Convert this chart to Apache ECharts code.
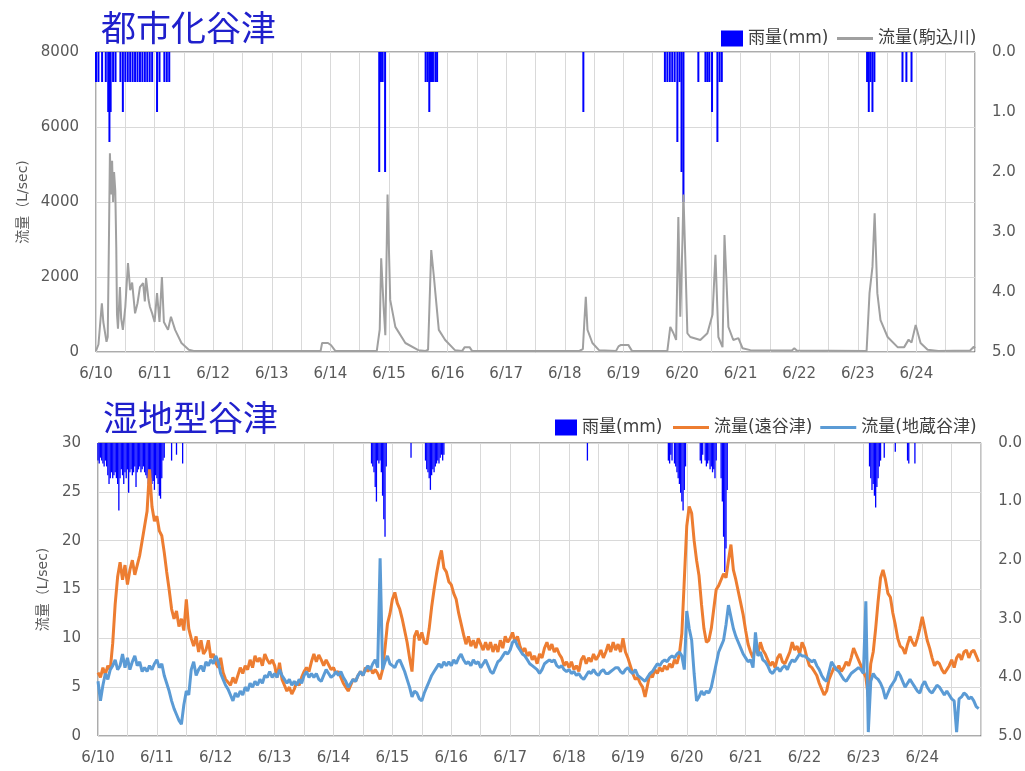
<!DOCTYPE html>
<html>
<head>
<meta charset="utf-8">
<script src="https://cdn.jsdelivr.net/npm/echarts@6.0.0/dist/echarts.min.js"></script>
<style>
  html, body { margin: 0; padding: 0; background: #fff; }
  #main { width: 1025px; height: 771px; }
</style>
</head>
<body>
<div id="main"></div>
<script>
// x axis is hours since 6/10 0:00
var dayLabels = ['6/10', '6/11', '6/12', '6/13', '6/14', '6/15', '6/16', '6/17',
                 '6/18', '6/19', '6/20', '6/21', '6/22', '6/23', '6/24'];

// 都市化谷津: rain (mm) and flow of 駒込川 (L/sec), [hour, value]
var urbanRain = [
  [0, 0.5], [1, 0.5], [2.5, 0.5], [4, 0.5], [5, 1.0], [5.5, 1.5], [6, 1.0], [7, 0.5], [8, 0.5],
  [10, 0.5], [11, 1.0], [12, 0.5], [13, 0.5], [14, 0.5], [15, 0.5], [16, 0.5], [17, 0.5],
  [18, 0.5], [19, 0.5], [20, 0.5], [21, 0.5], [22, 0.5], [23, 0.5], [25, 1.0], [26, 0.5],
  [28, 0.5], [29, 0.5], [30, 0.5],
  [116, 2.0], [116.7, 0.5], [117.4, 0.5], [118.4, 2.0],
  [135, 0.5], [135.8, 0.5], [136.5, 1.0], [137.2, 0.5], [138, 0.5], [139, 0.5], [139.7, 0.5],
  [199.6, 1.0],
  [233, 0.5], [234, 0.5], [235, 0.5], [236, 0.5], [237, 0.5], [238.1, 1.5], [239, 0.5],
  [239.8, 2.0], [240.6, 2.5],
  [246.7, 0.5], [249.6, 0.5], [250.4, 0.5], [251.2, 0.5], [252.3, 1.0],
  [254.5, 1.5], [255.4, 0.5], [256.3, 0.5],
  [315.8, 0.5], [316.5, 1.0], [317.2, 0.5], [318, 1.0], [318.8, 0.5],
  [330.3, 0.5], [331.9, 0.5], [334, 0.5]
];
var komagomeFlow = [
  [0, 30], [1, 200], [2.4, 1300], [3, 800], [4.3, 270], [4.8, 400], [5.3, 3000], [5.7, 5300],
  [6.2, 4200], [6.6, 5100], [7, 4000], [7.4, 4800], [7.9, 4300], [8.3, 2800], [8.6, 1000],
  [9, 620], [9.8, 1730], [10.3, 900], [11, 590], [12, 1200], [13.1, 2370], [14, 1650],
  [14.8, 1850], [16, 1030], [17, 1300], [18, 1730], [19.3, 1840], [20, 1350], [20.5, 1970],
  [21.5, 1400], [22.1, 1200], [23, 1030], [24, 800], [25, 1570], [26, 800], [27, 2000],
  [27.8, 800], [29.5, 590], [30.7, 940], [32.4, 590], [35, 240], [38, 60], [40, 30],
  [92, 30], [92.6, 240], [95, 240], [96.3, 180], [98, 30],
  [115, 30], [116.2, 600], [116.8, 2500], [117.8, 1200], [118.5, 450], [119.4, 4200],
  [120.5, 1390], [122.6, 670], [126.7, 240], [132, 50], [135, 30],
  [136, 60], [137.3, 2720], [138.4, 2000], [139, 1570], [140.4, 590], [143, 320], [147, 50],
  [150, 30], [151, 130], [153, 130], [154, 30],
  [198, 30], [199.4, 80], [200, 800], [200.6, 1470], [201.3, 590], [203.3, 240], [206, 50],
  [213, 30], [214, 150], [215, 190], [218, 190], [219.5, 30],
  [234, 30], [235.2, 670], [236.5, 500], [237.6, 320], [238.5, 3600], [239.3, 940],
  [240.2, 3000], [240.6, 4200], [241.4, 2400], [242.2, 500], [243.4, 400], [247.5, 320],
  [250.4, 500], [252.5, 1000], [253.7, 2590], [254.9, 400], [256.6, 130], [257.4, 3120],
  [258.2, 1920], [259, 670], [261, 320], [263.1, 370], [264.8, 100], [268, 50],
  [285, 40], [286, 100], [287, 40],
  [315.6, 30], [316.8, 1570], [318, 2270], [318.9, 3700], [320, 1570], [321.3, 850],
  [324.2, 400], [328.3, 130], [331, 130], [332.8, 330], [334, 250], [335.7, 720],
  [337.7, 240], [340.6, 60], [345, 30], [358, 40], [359.5, 140], [360, 100]
];

// 湿地型谷津: rain (mm) [hour, value] and hourly flows (L/sec)
var wetRain = [
  [0, 0.3], [0.5, 0.35], [1, 0.25], [1.5, 0.3], [2, 0.35], [2.5, 0.4], [3, 0.3], [3.5, 0.4],
  [4, 0.55], [4.5, 0.7], [5, 0.6], [5.5, 0.5], [6, 0.6], [6.5, 0.55], [7, 0.5], [7.5, 0.6],
  [8, 0.7], [8.5, 1.15], [9, 0.6], [9.5, 0.45], [10, 0.55], [10.5, 0.7], [11, 0.5], [11.5, 0.6],
  [12, 0.45], [12.5, 0.85], [13, 0.5], [13.5, 0.45], [14, 0.55], [14.5, 0.5], [15, 0.4],
  [15.5, 0.75], [16, 0.5], [16.5, 0.45], [17, 0.4], [17.5, 0.5], [18, 0.45], [18.5, 0.4],
  [19, 0.5], [19.5, 0.55], [20, 0.6], [20.5, 0.7], [21, 0.75], [21.5, 0.6], [22, 0.7],
  [22.5, 0.65], [23, 0.8], [23.5, 0.55], [24, 0.6], [24.5, 0.7], [25, 0.9], [25.5, 0.95],
  [26, 0.6], [26.5, 0.3], [27, 0.25], [30, 0.3], [32, 0.2], [34.5, 0.35],
  [111.5, 0.35], [112, 0.4], [112.5, 0.5], [113, 0.75], [113.5, 1.0], [114, 0.3], [114.5, 0.35],
  [115, 0.3], [115.5, 0.5], [116, 0.9], [116.5, 1.3], [117, 1.6], [117.5, 0.4], [127.6, 0.25],
  [133.5, 0.3], [134, 0.45], [134.5, 0.5], [135, 0.6], [135.5, 0.8], [136, 0.55], [136.5, 0.45],
  [137, 0.5], [137.5, 0.4], [138, 0.35], [138.5, 0.3], [139, 0.35], [139.5, 0.25], [140, 0.2],
  [140.5, 0.3], [141, 0.2],
  [199.5, 0.3],
  [232.5, 0.3], [233, 0.35], [233.5, 0.2], [234, 0.3], [235, 0.35], [235.5, 0.4], [236, 0.5],
  [236.5, 0.6], [237, 0.7], [237.5, 0.85], [238, 1.0], [238.5, 1.15], [239, 0.8], [239.5, 0.4],
  [245.5, 0.3], [246, 0.35], [246.5, 0.2], [247.5, 0.3], [248, 0.4], [248.5, 0.35], [249, 0.3],
  [249.5, 0.45], [250, 0.4], [250.5, 0.5], [251, 0.45], [251.5, 0.6], [252, 0.3],
  [254, 0.6], [254.5, 1.0], [255, 1.6], [255.5, 2.2], [256, 1.8], [256.5, 0.8],
  [314.5, 0.4], [315, 0.6], [315.5, 0.8], [316, 0.7], [316.5, 0.9], [317, 1.1], [317.5, 0.75],
  [318, 0.6], [318.5, 0.4], [319, 0.3], [320.5, 0.25],
  [325, 0.15], [330, 0.3], [330.5, 0.35], [333, 0.35]
];
var tooyatsuFlow = [
  6.5, 6.0, 7.0, 6.3, 7.2, 6.8, 9.5, 13.5, 16.3, 17.8, 16.0, 17.5, 15.5, 17.0, 18.0, 16.5, 17.5, 18.5, 20.0, 21.5, 23.0, 27.3, 23.5, 22.0,
  22.5, 21.0, 20.5, 18.8, 16.8, 15.0, 13.0, 12.0, 12.8, 11.2, 12.0, 10.8, 14.0, 11.0, 10.0, 9.2, 10.2, 8.6, 9.8, 8.4, 8.8, 9.8, 8.0, 8.4,
  7.5, 7.0, 8.0, 6.5, 5.8, 5.5, 5.2, 6.0, 5.4, 6.2, 7.0, 6.4, 7.2, 6.8, 7.8, 7.0, 8.2, 7.6, 8.0, 7.2, 8.4, 7.8, 7.4, 7.8,
  7.2, 6.0, 7.5, 5.8, 5.2, 4.6, 5.0, 4.3, 4.8, 5.5, 5.2, 6.0, 6.6, 7.0, 6.6, 7.6, 8.4, 7.6, 8.3, 7.8, 7.2, 7.8, 7.3, 6.8,
  7.0, 6.4, 6.6, 6.0, 5.4, 5.0, 4.6, 5.2, 5.8, 5.6, 6.2, 6.6, 6.2, 7.0, 6.6, 7.0, 6.4, 6.8, 6.4, 5.8, 6.8, 9.0, 11.5, 12.5,
  14.0, 14.7, 13.6, 13.0, 12.0, 10.8, 9.6, 8.0, 6.6, 10.2, 10.8, 9.8, 10.6, 9.6, 9.4, 11.0, 13.2, 15.0, 16.6, 18.0, 19.0, 17.2, 16.8, 15.8,
  15.5, 14.6, 14.0, 12.6, 11.5, 10.4, 9.4, 10.2, 9.2, 9.8, 9.0, 10.0, 9.4, 8.8, 9.6, 8.8, 9.6, 8.6, 9.4, 8.6, 9.8, 9.0, 10.2, 9.6,
  10.0, 10.6, 9.6, 10.2, 9.2, 8.6, 9.0, 8.2, 8.6, 7.8, 8.2, 7.4, 8.4, 8.0, 9.0, 9.6, 8.8, 9.4, 8.6, 9.0, 8.4, 8.0, 7.2, 7.6,
  7.0, 7.6, 6.8, 7.2, 6.6, 7.8, 8.2, 7.4, 8.0, 7.6, 8.4, 7.8, 8.2, 8.8, 8.0, 8.6, 9.4, 8.6, 9.6, 8.8, 9.4, 8.6, 10.0, 8.6,
  8.0, 7.2, 6.4, 5.8, 6.0, 5.4, 5.0, 4.0, 5.2, 6.4, 6.0, 6.8, 6.4, 7.0, 6.6, 7.2, 6.8, 7.4, 7.0, 7.8, 7.4, 8.4, 10.5, 16.0,
  21.5, 23.5, 22.8, 20.0, 18.0, 16.4, 13.5, 11.0, 9.6, 9.8, 11.0, 13.0, 15.0, 15.4, 16.0, 16.6, 16.2, 18.0, 19.6, 17.0, 16.0, 14.8, 13.6, 12.4,
  10.8, 9.4, 8.6, 8.0, 9.2, 8.4, 9.6, 8.8, 8.4, 7.8, 7.2, 7.6, 7.0, 8.0, 8.4, 7.6, 7.4, 8.0, 8.6, 9.6, 8.8, 9.2, 8.4, 9.6,
  9.0, 8.0, 7.2, 7.0, 6.6, 6.2, 5.4, 4.8, 4.2, 4.6, 5.8, 6.4, 7.0, 6.8, 7.2, 6.6, 7.0, 7.6, 7.2, 8.0, 9.0, 8.4, 7.8, 7.2,
  6.6, 6.0, 4.0, 7.4, 8.6, 11.0, 13.8, 16.2, 17.0, 16.0, 14.6, 14.2, 12.6, 11.4, 10.0, 9.2, 9.0, 8.4, 9.4, 10.2, 9.6, 9.2, 10.0, 11.0,
  12.2, 11.0, 9.8, 9.0, 8.0, 7.2, 7.6, 7.4, 6.8, 6.4, 6.8, 7.2, 7.8, 7.0, 8.0, 8.4, 7.8, 8.6, 8.8, 8.0, 8.6, 8.8, 8.2, 7.6
];
var jizoFlow = [
  5.6, 3.6, 5.2, 6.4, 5.8, 6.8, 7.2, 7.8, 6.8, 7.2, 8.4, 7.0, 8.0, 6.8, 7.6, 8.2, 7.2, 7.6, 6.6, 7.0, 6.6, 7.2, 6.8, 7.4,
  7.8, 7.0, 7.4, 6.2, 5.4, 4.6, 3.6, 2.8, 2.2, 1.6, 1.2, 3.2, 4.6, 4.2, 6.8, 7.6, 6.2, 6.8, 7.2, 6.6, 7.6, 7.2, 7.8, 7.4,
  8.2, 7.6, 6.4, 5.8, 5.2, 4.8, 4.2, 3.6, 4.4, 4.0, 4.6, 4.2, 5.0, 4.6, 5.4, 5.0, 5.6, 5.2, 5.8, 5.4, 6.2, 6.0, 6.6, 6.0,
  6.4, 6.0, 6.8, 6.2, 5.8, 5.4, 5.8, 5.2, 5.6, 5.2, 5.8, 5.4, 6.2, 6.6, 6.0, 6.4, 6.0, 6.4, 5.8, 5.6, 6.2, 6.8, 6.4, 6.0,
  6.2, 6.6, 6.2, 6.6, 6.0, 5.6, 5.0, 5.4, 5.8, 5.6, 6.2, 6.6, 6.2, 6.8, 7.2, 6.8, 7.4, 7.8, 7.0, 18.2, 6.8, 7.6, 8.2, 7.4,
  7.2, 7.0, 7.6, 7.8, 7.2, 6.6, 5.8, 5.0, 4.0, 4.6, 4.4, 3.8, 3.6, 4.4, 5.0, 5.6, 6.2, 6.6, 7.0, 7.4, 7.0, 7.6, 7.2, 7.6,
  7.2, 7.8, 7.4, 8.0, 8.4, 7.8, 7.4, 7.6, 7.2, 7.8, 7.4, 7.6, 7.0, 7.4, 7.8, 7.2, 6.6, 6.4, 7.0, 7.6, 7.8, 8.2, 8.6, 8.4,
  8.8, 9.6, 9.8, 9.2, 8.8, 8.4, 8.2, 7.8, 7.4, 7.2, 7.0, 6.8, 6.4, 6.8, 7.4, 7.6, 7.8, 7.6, 7.8, 7.2, 7.0, 7.2, 6.8, 6.6,
  6.8, 6.4, 6.6, 6.2, 6.4, 6.0, 5.8, 6.2, 6.6, 6.4, 6.8, 6.4, 6.2, 6.6, 6.8, 6.4, 6.4, 6.6, 6.8, 7.0, 7.0, 6.6, 6.4, 6.8,
  7.0, 6.6, 6.4, 6.8, 6.2, 6.0, 5.8, 5.6, 6.0, 6.4, 6.6, 7.0, 7.4, 7.2, 7.6, 7.8, 7.6, 8.0, 8.2, 8.0, 8.4, 8.6, 8.2, 6.8,
  12.8, 11.0, 9.8, 6.4, 3.6, 4.0, 4.6, 4.2, 4.6, 4.4, 5.0, 6.2, 7.4, 8.6, 9.2, 9.8, 11.4, 13.4, 12.2, 11.0, 10.2, 9.6, 9.0, 8.4,
  8.0, 7.6, 7.8, 7.0, 10.6, 8.2, 8.6, 7.8, 7.6, 7.2, 6.6, 6.4, 6.8, 7.0, 6.6, 7.0, 7.2, 6.8, 7.4, 7.8, 7.6, 8.0, 8.4, 8.2,
  8.2, 8.0, 7.8, 7.6, 7.8, 7.2, 6.8, 6.2, 5.8, 5.6, 6.6, 7.6, 7.2, 6.8, 6.6, 6.2, 5.8, 5.6, 6.0, 6.4, 6.6, 6.8, 7.0, 6.8,
  6.4, 13.8, 0.4, 5.6, 6.4, 6.0, 5.8, 5.4, 4.8, 3.8, 4.4, 5.0, 5.4, 5.8, 6.6, 6.2, 5.6, 5.0, 5.4, 5.8, 5.4, 5.0, 4.6, 4.4,
  5.2, 5.6, 5.0, 4.6, 4.4, 4.8, 5.2, 5.0, 4.6, 4.2, 4.6, 4.2, 3.8, 3.6, 0.4, 3.8, 4.0, 4.4, 4.2, 3.8, 4.0, 3.6, 3.0, 2.8
];

var FONT = 'DejaVu Sans, "Noto Sans CJK JP", sans-serif';
var AXIS_COLOR = '#595959';
var GRID_LINE = '#d9d9d9';

function hourly(arr) {
    return arr.map(function (v, i) { return [i, v]; });
}

function xAxisFor(gridIndex) {
    return {
        type: 'value',
        gridIndex: gridIndex,
        min: 0,
        max: 360,
        interval: 12,
        axisLine: { show: false },
        axisTick: { show: false },
        splitLine: { show: true, lineStyle: { color: GRID_LINE, width: 1 } },
        axisLabel: {
            color: AXIS_COLOR,
            fontSize: 15,
            fontFamily: FONT,
            margin: 15,
            showMaxLabel: false,
            formatter: function (v) {
                if (v % 24 !== 0 || v >= 360) return '';
                return dayLabels[v / 24];
            }
        }
    };
}

function flowAxis(gridIndex, max, interval, nameGap) {
    return {
        type: 'value',
        gridIndex: gridIndex,
        min: 0,
        max: max,
        interval: interval,
        name: '流量（L/sec)',
        nameLocation: 'middle',
        nameGap: nameGap,
        nameTextStyle: { color: AXIS_COLOR, fontSize: 14, fontFamily: FONT },
        axisLine: { show: false },
        axisTick: { show: false },
        splitLine: { show: true, lineStyle: { color: GRID_LINE } },
        axisLabel: {
            color: AXIS_COLOR, fontSize: 15, fontFamily: FONT, margin: 17,
            formatter: function (v) { return String(v); }
        }
    };
}

function rainAxis(gridIndex) {
    return {
        type: 'value',
        gridIndex: gridIndex,
        position: 'right',
        inverse: true,
        min: 0,
        max: 5,
        interval: 1,
        axisLine: { show: false },
        axisTick: { show: false },
        splitLine: { show: false },
        axisLabel: {
            color: AXIS_COLOR, fontSize: 15, fontFamily: FONT, margin: 17,
            formatter: function (v) { return v.toFixed(1); }
        }
    };
}

var legendText = { color: '#404040', fontSize: 17, fontFamily: FONT };

var option = {
    backgroundColor: '#ffffff',
    animation: false,
    title: [{
        text: '都市化谷津',
        left: 96, top: 9,
        textStyle: { color: '#2020cc', fontSize: 35, fontWeight: 'normal', fontFamily: FONT }
    }, {
        text: '湿地型谷津',
        left: 98, top: 399,
        textStyle: { color: '#2020cc', fontSize: 35, fontWeight: 'normal', fontFamily: FONT }
    }],
    legend: [{
        data: [{ name: '雨量(mm)', icon: 'rect' }],
        left: 716, top: 25, itemWidth: 22, itemHeight: 16,
        textStyle: legendText
    }, {
        data: [{ name: '流量(駒込川)', icon: 'rect' }],
        left: 832, top: 25, itemWidth: 36, itemHeight: 3,
        textStyle: legendText
    }, {
        data: [{ name: '雨量(mm)', icon: 'rect' }],
        left: 550, top: 414, itemWidth: 22, itemHeight: 16,
        textStyle: legendText
    }, {
        data: [{ name: '流量(遠谷津)', icon: 'rect' }, { name: '流量(地蔵谷津)', icon: 'rect' }],
        left: 668, top: 414, itemWidth: 36, itemHeight: 3, itemGap: 8,
        textStyle: legendText
    }],
    grid: [{
        left: 96, top: 52, width: 879, height: 300,
        show: true, borderColor: '#595959', borderWidth: 1
    }, {
        left: 98, top: 443, width: 884, height: 293,
        show: true, borderColor: '#595959', borderWidth: 1
    }],
    xAxis: [xAxisFor(0), xAxisFor(1)],
    yAxis: [
        flowAxis(0, 8000, 2000, 60),
        rainAxis(0),
        flowAxis(1, 30, 5, 48),
        rainAxis(1)
    ],
    series: [{
        name: '雨量(mm)',
        type: 'bar',
        xAxisIndex: 0, yAxisIndex: 1,
        barWidth: 2,
        itemStyle: { color: '#0000ff' },
        data: urbanRain
    }, {
        name: '流量(駒込川)',
        type: 'line',
        xAxisIndex: 0, yAxisIndex: 0,
        symbol: 'none',
        lineStyle: { color: '#a0a0a0', width: 2 },
        itemStyle: { color: '#a0a0a0' },
        data: komagomeFlow
    }, {
        name: '雨量(mm)',
        type: 'bar',
        xAxisIndex: 1, yAxisIndex: 3,
        barWidth: 1.3,
        itemStyle: { color: '#0000ff' },
        data: wetRain
    }, {
        name: '流量(遠谷津)',
        type: 'line',
        xAxisIndex: 1, yAxisIndex: 2,
        symbol: 'none',
        lineStyle: { color: '#ed7d31', width: 3 },
        itemStyle: { color: '#ed7d31' },
        data: hourly(tooyatsuFlow)
    }, {
        name: '流量(地蔵谷津)',
        type: 'line',
        xAxisIndex: 1, yAxisIndex: 2,
        symbol: 'none',
        lineStyle: { color: '#5b9bd5', width: 3 },
        itemStyle: { color: '#5b9bd5' },
        data: hourly(jizoFlow)
    }]
};

var myChart = echarts.init(document.getElementById('main'));
myChart.setOption(option);
</script>
</body>
</html>
